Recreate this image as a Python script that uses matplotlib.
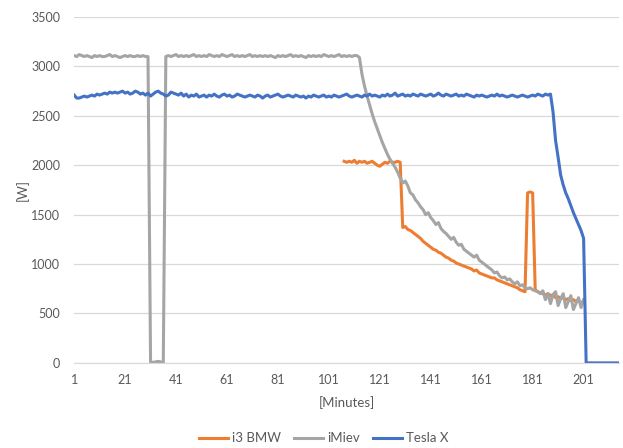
import numpy as np
import matplotlib
matplotlib.use("Agg")
import matplotlib.pyplot as plt

plt.rcParams['font.family'] = ['Lato', 'DejaVu Sans']

# minutes 1..215
tesla = [2710, 2680, 2680, 2690, 2700, 2690, 2700, 2710, 2700, 2720,
         2710, 2720, 2730, 2720, 2740, 2730, 2740, 2730, 2740, 2750,
         2730, 2740, 2720, 2730, 2750, 2740, 2720, 2730, 2710, 2730,
         2700, 2720, 2740, 2750, 2730, 2720, 2700, 2710, 2740, 2730,
         2720, 2710, 2730, 2700, 2720, 2690, 2710, 2700, 2720, 2690,
         2700, 2710, 2690, 2710, 2700, 2720, 2700, 2690, 2710, 2720,
         2700, 2710, 2690, 2700, 2720, 2710, 2700, 2690, 2700, 2710,
         2700, 2690, 2710, 2700, 2680, 2700, 2710, 2690, 2700, 2710,
         2720, 2700, 2690, 2700, 2710, 2700, 2690, 2710, 2700, 2690,
         2700, 2680, 2700, 2690, 2710, 2700, 2690, 2700, 2710, 2690,
         2700, 2690, 2710, 2700, 2690, 2700, 2710, 2720, 2700, 2690,
         2700, 2710, 2700, 2690, 2710, 2700, 2720, 2700, 2710, 2700,
         2690, 2710, 2700, 2720, 2700, 2710, 2730, 2700, 2710, 2720,
         2700, 2710, 2700, 2720, 2710, 2700, 2720, 2710, 2700, 2710,
         2720, 2700, 2710, 2730, 2710, 2700, 2720, 2710, 2700, 2710,
         2720, 2700, 2710, 2700, 2720, 2710, 2700, 2690, 2710, 2700,
         2710, 2700, 2690, 2700, 2710, 2700, 2720, 2700, 2710, 2700,
         2690, 2700, 2710, 2700, 2690, 2700, 2710, 2700, 2690, 2700,
         2710, 2700, 2720, 2710, 2700, 2720, 2710, 2720,
         2540, 2250, 2080, 1900, 1800, 1720, 1660, 1590, 1520, 1460,
         1400, 1340, 1260,
         0, 0, 0, 0, 0, 0, 0, 0, 0, 0, 0, 0, 0, 0]

# minutes 1..201
imiev = [3110, 3100, 3120, 3110, 3100, 3110, 3100, 3090, 3110, 3100,
         3110, 3100, 3100, 3110, 3120, 3100, 3110, 3100, 3090, 3100,
         3110, 3100, 3110, 3100, 3100, 3110, 3100, 3110, 3100, 3100,
         10, 5, 10, 15, 10, 5,
         3100, 3110, 3100, 3110, 3120, 3100, 3110, 3100, 3110, 3100,
         3110, 3120, 3100, 3110, 3100, 3110, 3100, 3120, 3110, 3100,
         3110, 3100, 3120, 3110, 3100, 3110, 3120, 3100, 3110, 3100,
         3110, 3100, 3110, 3120, 3100, 3110, 3100, 3110, 3100, 3110,
         3100, 3110, 3100, 3090, 3110, 3100, 3110, 3100, 3110, 3120,
         3100, 3110, 3100, 3110, 3100, 3090, 3110, 3100, 3110, 3100,
         3110, 3100, 3120, 3110, 3100, 3110, 3100, 3110, 3120, 3100,
         3110, 3100, 3110, 3100, 3110, 3110, 3090,
         2920, 2800, 2700, 2610, 2520, 2440, 2370, 2300, 2230, 2170,
         2110, 2060, 2020, 1980, 1930, 1870, 1820, 1840, 1790, 1720,
         1700, 1650, 1620, 1580, 1550, 1500, 1520, 1470, 1440, 1400,
         1420, 1360, 1330, 1310, 1280, 1250, 1270, 1220, 1190, 1200,
         1150, 1130, 1110, 1090, 1070, 1090, 1040, 1020, 1000, 980,
         960, 940, 910, 920, 880, 860, 870, 840, 850, 820,
         800, 820, 780, 790, 760, 750, 760, 740, 730, 720,
         700, 730, 640, 700, 600, 690, 720, 580, 650, 700,
         560, 620, 680, 540, 600, 660, 560, 640]

# minutes 107..201
i3_start = 107
i3 = [2040, 2030, 2040, 2030, 2050, 2020, 2040, 2030, 2040, 2020,
      2030, 2040, 2020, 2000, 1990, 2010, 2030, 2020, 2040, 2030,
      2030, 2040, 2030,
      1370, 1380, 1350, 1340, 1320, 1300, 1280, 1260, 1230, 1210,
      1190, 1170, 1150, 1140, 1120, 1110, 1090, 1070, 1060, 1040,
      1030, 1010, 1000, 990, 980, 970, 960, 950, 930, 940,
      910, 900, 890, 880, 870, 860, 860, 840, 830, 820,
      810, 800, 790, 780, 770, 760, 740, 730, 720,
      1720, 1730, 1720,
      740, 720, 710, 700, 690, 700, 680, 690, 660, 670,
      650, 660, 640, 650, 630, 640, 620, 630, 610, 620]

x_ticks = [1, 21, 41, 61, 81, 101, 121, 141, 161, 181, 201]

fig = plt.figure(figsize=(6.23, 4.48), dpi=100)
ax = fig.add_axes([0.119, 0.19, 0.875, 0.772])

x_tesla = np.arange(1, len(tesla) + 1)
x_imiev = np.arange(1, len(imiev) + 1)
x_i3 = np.arange(i3_start, i3_start + len(i3))

ax.plot(x_i3, i3, color='#ED7D31', lw=2.2, label='i3 BMW', solid_joinstyle='round')
ax.plot(x_imiev, imiev, color='#A5A5A5', lw=2.2, label='iMiev', solid_joinstyle='round')
ax.plot(x_tesla, tesla, color='#4472C4', lw=2.2, label='Tesla X', solid_joinstyle='round')

ax.set_xlim(1, len(tesla))
ax.set_ylim(0, 3500)
ax.set_yticks(np.arange(0, 3501, 500))
ax.set_xticks(x_ticks)
ax.grid(axis='y', color='#D9D9D9', lw=0.9)
ax.set_axisbelow(True)
for s in ['top', 'right', 'left']:
    ax.spines[s].set_visible(False)
ax.spines['bottom'].set_color('#D9D9D9')
ax.tick_params(length=0, labelsize=9, colors='#595959', pad=8)
ax.tick_params(axis='y', pad=10)

ax.set_xlabel('[Minutes]', fontsize=9.5, color='#595959', labelpad=7)
ax.set_ylabel('[W]', fontsize=9.5, color='#595959', labelpad=2)

fig.legend(loc='lower center', bbox_to_anchor=(0.52, -0.018), ncol=3, frameon=False,
           fontsize=9.5, handlelength=2.2, columnspacing=1.0, handletextpad=0.3,
           labelcolor='#595959')

fig.savefig('out.png', dpi=100)
